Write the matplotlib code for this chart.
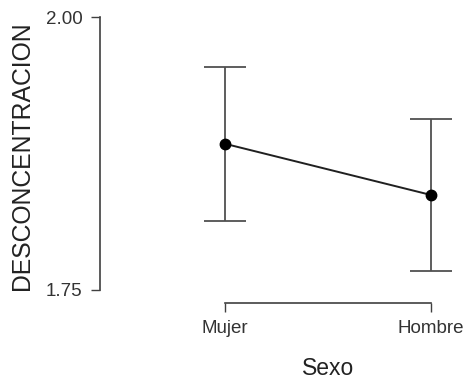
import numpy as np
import matplotlib.pyplot as plt

plt.rcParams['font.family'] = ['Liberation Sans', 'DejaVu Sans']

# medias por grupo e intervalos
sexo = ['Mujer', 'Hombre']
media = [1.884, 1.837]
ic_inf = [1.813, 1.767]
ic_sup = [1.954, 1.907]

x = np.arange(len(sexo))
media = np.array(media)
err = [media - np.array(ic_inf), np.array(ic_sup) - media]

fig = plt.figure(figsize=(4.66, 3.80), dpi=100)
ax = fig.add_axes([100 / 466, 90 / 380, 355 / 466, 273 / 380])

ax.errorbar(x, media, yerr=err, fmt='none', ecolor='#505050',
            elinewidth=1.3, capsize=14.8, capthick=1.3, zorder=2)
ax.plot(x, media, color='#202020', lw=1.4, zorder=3)
ax.plot(x, media, 'o', color='black', ms=7.5, zorder=4)

ax.set_xlim(-0.603, 1.116)
ax.set_ylim(1.75, 2.00)
ax.set_xticks(x)
ax.set_xticklabels(sexo)
ax.set_yticks([1.75, 2.00])
ax.set_yticklabels(['1.75', '2.00'])

for s in ['top', 'right']:
    ax.spines[s].set_visible(False)
ax.spines['bottom'].set_position(('outward', 9.4))
ax.spines['bottom'].set_bounds(0, 1)
ax.spines['left'].set_bounds(1.75, 2.00)
for s in ['bottom', 'left']:
    ax.spines[s].set_color('#404040')
    ax.spines[s].set_linewidth(1.2)

ax.tick_params(axis='both', length=6.5, width=1.0, color='#404040',
               labelsize=13.5, labelcolor='#333333', pad=6)

# etiqueta x centrada sobre el tramo del eje, no sobre todo el panel
ax.set_xlabel('Sexo', fontsize=16.5, color='#222222')
ax.xaxis.set_label_coords(0.642, -0.286)
ax.xaxis.label.set_va('center')
ax.set_ylabel('DESCONCENTRACION', fontsize=17.8, color='#222222')
ax.yaxis.set_label_coords(-0.22, 0.493)
ax.yaxis.label.set_va('center')

fig.savefig('out.png', dpi=100)
